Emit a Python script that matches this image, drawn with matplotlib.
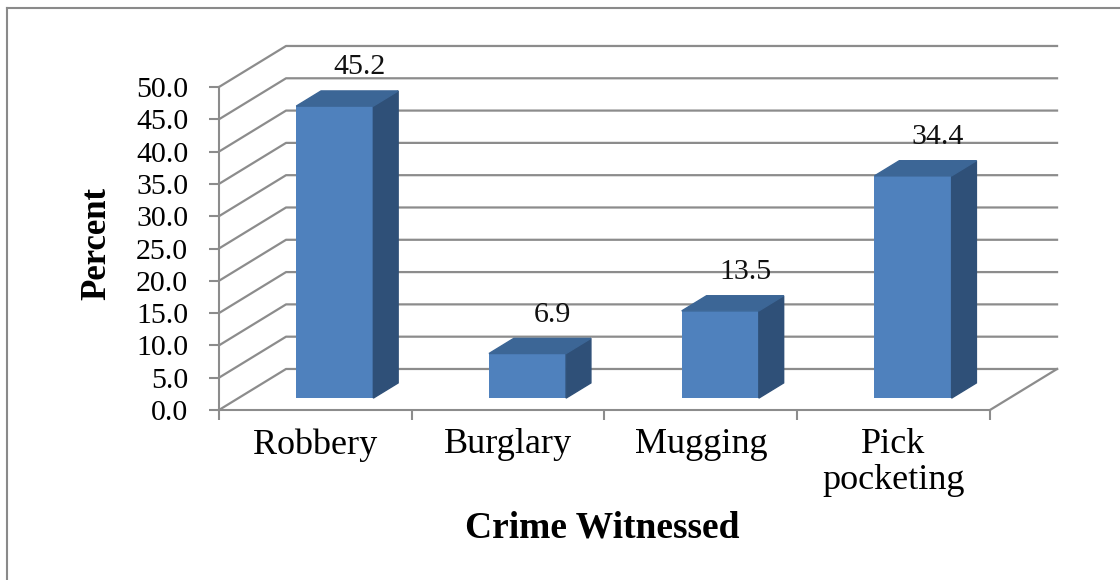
import numpy as np
import matplotlib
matplotlib.use('Agg')
import matplotlib.pyplot as plt
from matplotlib.lines import Line2D

categories = ['Robbery', 'Burglary', 'Mugging', 'Pick\npocketing']
percent = [45.2, 6.9, 13.5, 34.4]
y_ticks = [0, 5, 10, 15, 20, 25, 30, 35, 40, 45, 50]

plt.rcParams['font.family'] = ['Liberation Serif', 'DejaVu Serif']

# oblique projection of depth: one full depth unit shifts by (DX, DY) in data units
DX = 0.348
DY = 6.35
D0, D1 = 0.29, 0.66     # bar depth span
BAR_W = 0.4
GRID = '#8c8c8c'
FRONT, TOP, SIDE = '#4f81bd', '#3c6696', '#2f5078'

fig = plt.figure(figsize=(11.2, 5.8), dpi=100)
ax = fig.add_axes([0.1955, 0.2931, 0.6884, 0.5569])
ax.set_xlim(-0.5, 3.5)
ax.set_ylim(0, 50)

for s in ['top', 'right']:
    ax.spines[s].set_visible(False)
for s in ['left', 'bottom']:
    ax.spines[s].set_color(GRID)
    ax.spines[s].set_linewidth(1.5)

# side wall + back wall gridlines
x0, x1 = -0.5, 3.5
for v in y_ticks:
    ax.plot([x0, x0 + DX, x1 + DX], [v, v + DY, v + DY], color=GRID, lw=1.6,
            clip_on=False, zorder=1)
# right edge of the floor
ax.plot([x1, x1 + DX], [0, DY], color=GRID, lw=1.6, clip_on=False, zorder=1)

# 3D-looking bars
xs = np.arange(len(categories))
dd = D1 - D0
for x, v in zip(xs, percent):
    xl = x - BAR_W / 2 + D0 * DX
    xr = x + BAR_W / 2 + D0 * DX
    b = D0 * DY
    t = v + D0 * DY
    ax.bar(xl, v, width=BAR_W, bottom=b, align='edge', color=FRONT,
           zorder=3, clip_on=False)
    ax.fill([xr, xr + dd * DX, xr + dd * DX, xr],
            [b, b + dd * DY, t + dd * DY, t], color=SIDE, zorder=3, clip_on=False)
    ax.fill([xl, xr, xr + dd * DX, xl + dd * DX],
            [t, t, t + dd * DY, t + dd * DY], color=TOP, zorder=3, clip_on=False)
    ax.annotate(f'{v:.1f}', xy=(x + D1 * DX, v + D1 * DY), xytext=(0, 12),
                textcoords='offset points', ha='center', va='baseline',
                fontsize=21.5, color='#111111', zorder=4, annotation_clip=False)

# axes ticks and labels
ax.set_yticks(y_ticks)
ax.set_yticklabels([f'{v:.1f}' for v in y_ticks])
ax.tick_params(axis='y', direction='out', length=7.2, width=1.5, color=GRID,
               pad=15, labelsize=21.5)
ax.set_xticks(np.arange(-0.5, 4.0, 1.0))
ax.set_xticklabels([])
ax.set_xticks(xs, minor=True)
ax.set_xticklabels(categories, minor=True, fontsize=26, linespacing=1.1)
ax.tick_params(axis='x', which='major', direction='out', length=7.2, width=1.5,
               color=GRID)
ax.tick_params(axis='x', which='minor', length=0, pad=13)

ax.set_ylabel('Percent', fontsize=25, fontweight='bold')
ax.yaxis.label.set_va('center')
ax.yaxis.set_label_coords(-0.158, 0.517)
ax.set_xlabel('Crime Witnessed', fontsize=27, fontweight='bold')
ax.xaxis.label.set_va('center')
ax.xaxis.set_label_coords(0.497, -0.365)

# chart frame (top and left edges)
fig.add_artist(Line2D([7 / 1120, 1], [1 - 8 / 580, 1 - 8 / 580],
                      transform=fig.transFigure, color='#8a8a8a', lw=1.5))
fig.add_artist(Line2D([7 / 1120, 7 / 1120], [0, 1 - 8 / 580],
                      transform=fig.transFigure, color='#8a8a8a', lw=1.5))

fig.savefig('out.png', dpi=100)
